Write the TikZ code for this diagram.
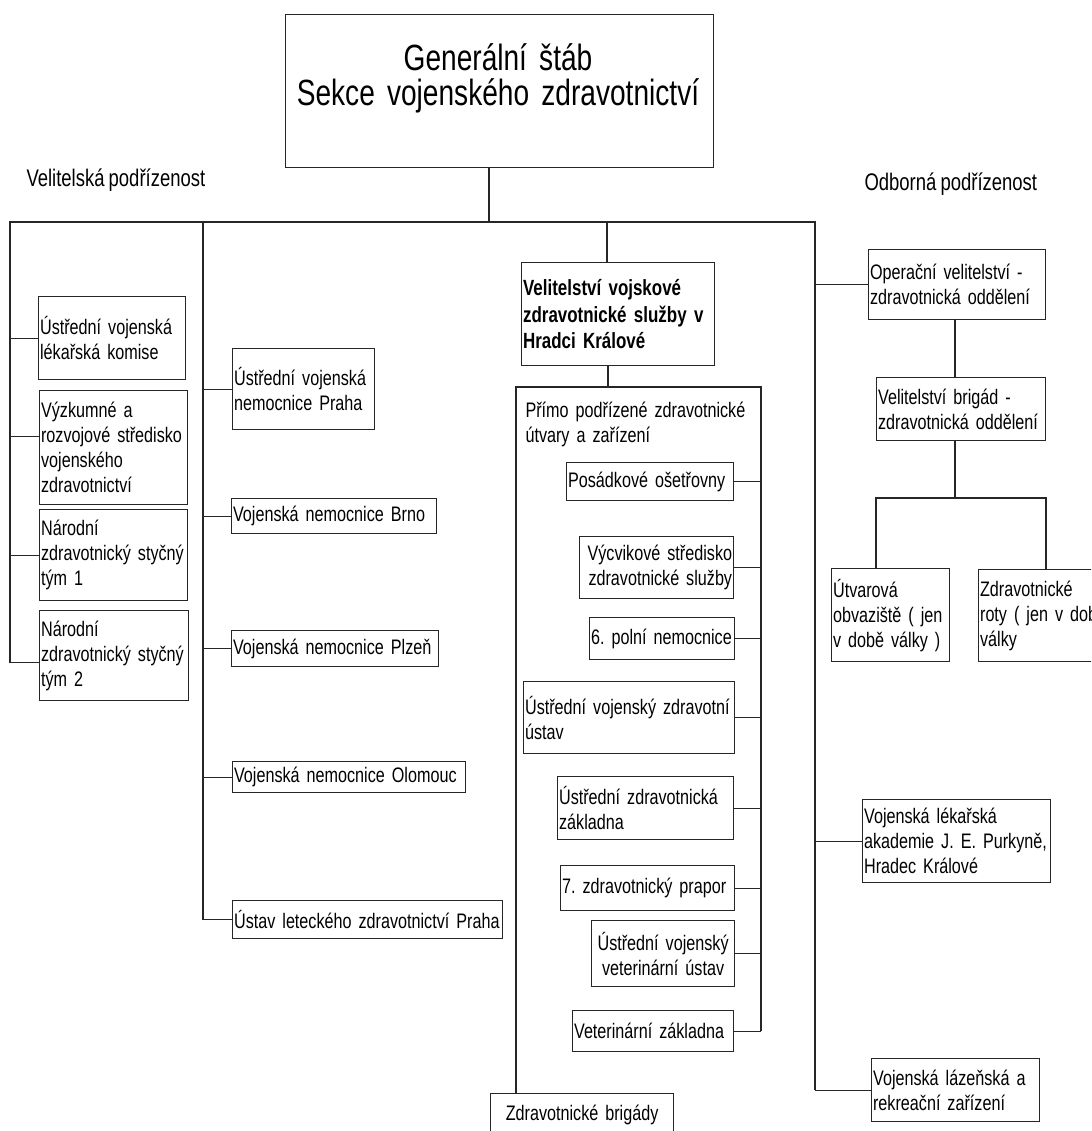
\documentclass[tikz,border=0pt]{standalone}
\usepackage{fontspec}
\setmainfont{Liberation Sans}[FakeStretch=0.77,WordSpace=0.8]
\frenchspacing
\hyphenpenalty=10000
\exhyphenpenalty=10000
\lineskiplimit=-100pt

\begin{document}
\begin{tikzpicture}[x=1pt,y=-1pt]
\tikzset{unit/.style 2 args = {draw=black!85, line width=1.2pt, anchor=north west,
  inner xsep=1.5pt, inner ysep=1pt, align=left, font=\fontsize{21}{25}\selectfont,
  minimum width=#1, minimum height=#2, text width=#1-3}}
\tikzset{link/.style = {draw=black!85, line width=1.2pt}}
\tikzset{head/.style = {anchor=base west, font=\fontsize{24}{28}\selectfont}}
\clip (0,0) rectangle (1091,1131);

\node[unit={428}{153}] (gs) at (285,14) {};
\node[anchor=base, text width=420, align=center, font=\fontsize{36.5}{38}\selectfont] (gst) at (498,71)
  {Generální štáb\hspace*{15pt}\\[-3pt]Sekce vojenského zdravotnictví};

\node[head] (hl) at (23,187) {Velitelská podřízenost};
\node[head] (hr) at (861,191) {Odborná podřízenost};

\node[unit={147}{83}] (uvlk) at (38,296) {Ústřední vojenská\\lékařská komise};
\node[unit={148}{114}] (vyzk) at (39,390) {Výzkumné a\\rozvojové středisko\\vojenského\\zdravotnictví};
\node[unit={148}{91}] (nzst1) at (39,509) {Národní\\zdravotnický styčný\\tým 1};
\node[unit={149}{90}] (nzst2) at (39,610) {Národní\\zdravotnický styčný\\tým 2};

\node[unit={142}{81}] (uvn) at (232,348) {Ústřední vojenská\\nemocnice Praha};
\node[unit={205}{35}] (brno) at (231,498) {Vojenská nemocnice Brno};
\node[unit={207}{36}] (plzen) at (231,630) {Vojenská nemocnice Plzeň};
\node[unit={233}{31}] (olom) at (232,761) {Vojenská nemocnice Olomouc};
\node[unit={270}{38}] (ulz) at (232,900) {Ústav leteckého zdravotnictví Praha};

\node[unit={193}{103}, font=\fontsize{22}{26.5}\selectfont\bfseries] (vvzs) at (521,262) {Velitelství vojskové\\zdravotnické služby v\\Hradci Králové};
\node[anchor=base west, text width=235, align=left, font=\fontsize{21}{25}\selectfont] (primo) at (522,417) {Přímo podřízené zdravotnické\\útvary a zařízení};
\node[unit={167}{38}] (posad) at (566,462) {Posádkové ošetřovny};
\node[unit={154}{62}, align=right] (vycvik) at (579,536) {Výcvikové středisko\\zdravotnické služby};
\node[unit={145}{42}] (polni) at (589,617) {6. polní nemocnice};
\node[unit={211}{72}] (uvzu) at (523,681) {Ústřední vojenský zdravotní\\ústav};
\node[unit={176}{63}] (uzz) at (557,776) {Ústřední zdravotnická\\základna};
\node[unit={174}{45}] (prapor) at (560,865) {7. zdravotnický prapor};
\node[unit={143}{66}, align=center] (uvvu) at (591,920) {Ústřední vojenský\\veterinární ústav};
\node[unit={161}{41}] (vetz) at (572,1010) {Veterinární základna};
\node[unit={183}{42}, align=center] (brig) at (490,1093) {Zdravotnické brigády};

\node[unit={177}{70}] (oper) at (868,249) {Operační velitelství -\\zdravotnická oddělení};
\node[unit={169}{63}] (velbrig) at (876,377) {Velitelství brigád -\\zdravotnická oddělení};
\node[unit={118}{93}] (utvar) at (831,568) {Útvarová\\obvaziště ( jen\\v době války )};
\node[unit={145}{92}] (roty) at (978,569) {Zdravotnické\\roty ( jen v době\\války};
\node[unit={188}{83}] (vla) at (862,799) {Vojenská lékařská\\akademie J. E. Purkyně,\\Hradec Králové};
\node[unit={168}{63}] (lazne) at (871,1058) {Vojenská lázeňská a\\rekreační zařízení};

\coordinate (b0) at (489,222);
\coordinate (bl) at (10,222);
\coordinate (bm) at (203,222);
\coordinate (bc) at (607,222);
\coordinate (br) at (815,222);
\coordinate (pl) at (516,387);
\coordinate (pc) at (608,387);
\coordinate (pr) at (761,387);
\coordinate (oc) at (955,498);
\coordinate (ul) at (876,498);
\coordinate (ur) at (1046,498);
\coordinate (v1) at ([yshift=11pt]vyzk.west);
\coordinate (n2) at ([yshift=-7pt]nzst2.west);

\draw[link] (b0 |- gs.south) -- (b0);
\draw[link] (n2 -| bl) -- (bl) -- (br) -- (br |- lazne.west);
\draw[link] (bm) -- (bm |- ulz.west);
\draw[link] (bc) -- (bc |- vvzs.north);

\foreach \n in {uvlk,nzst1}
  \draw[link] (bl |- \n.west) -- (\n.west);
\draw[link] (bl |- v1) -- (v1);
\draw[link] (bl |- n2) -- (n2);
\foreach \n in {uvn,brno,plzen,olom,ulz}
  \draw[link] (bm |- \n.west) -- (\n.west);

\draw[link] (vvzs.south -| pc) -- (pc);
\draw[link] (brig.north -| pl) -- (pl) -- (pr) -- (pr |- vetz.east);
\foreach \n in {posad,vycvik,polni,uvzu,uzz,prapor,uvvu,vetz}
  \draw[link] (\n.east) -- (pr |- \n.east);

\foreach \n in {oper,vla,lazne}
  \draw[link] (br |- \n.west) -- (\n.west);
\draw[link] (oper.south -| oc) -- (velbrig.north -| oc);
\draw[link] (velbrig.south -| oc) -- (oc);
\draw[link] (utvar.north -| ul) -- (ul) -- (ur) -- (ur |- roty.north);

\end{tikzpicture}
\end{document}
